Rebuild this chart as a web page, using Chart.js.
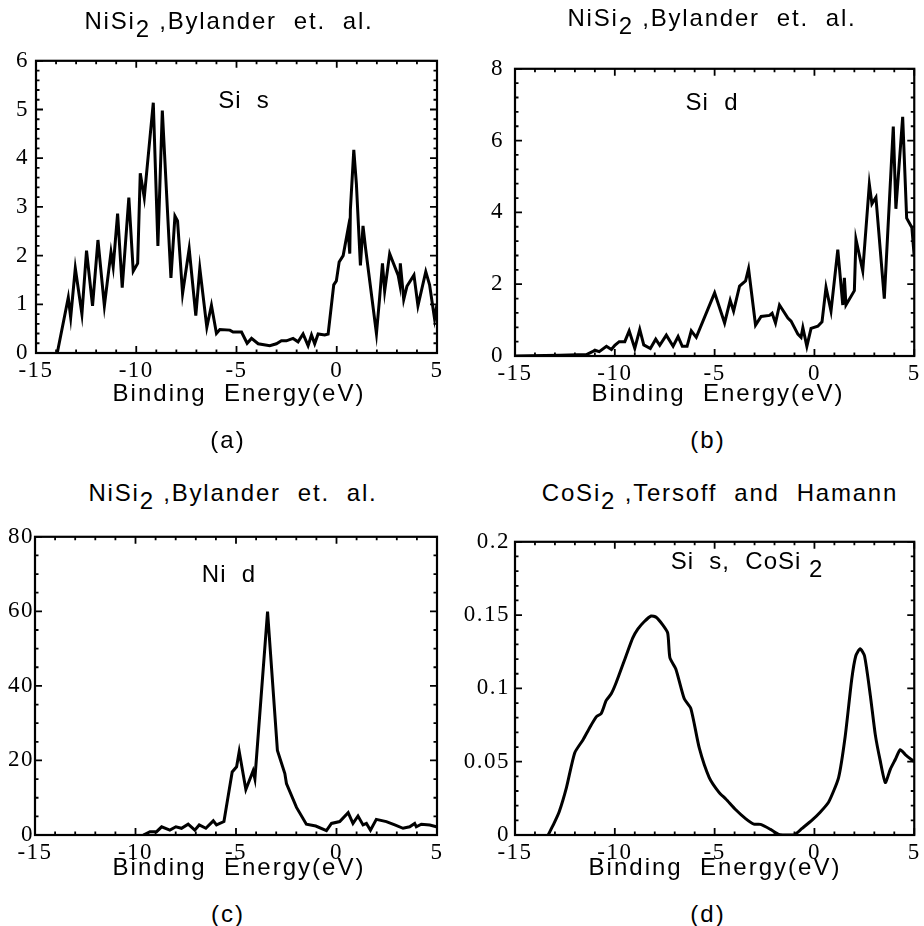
<!DOCTYPE html>
<html>
<head>
<meta charset="utf-8">
<script src="https://cdn.jsdelivr.net/npm/chart.js"></script>
<style>
  body { margin: 0; background: #fff; }
  #page { position: relative; width: 924px; height: 926px; overflow: hidden; }
  canvas { position: absolute; }
  .txt { position: absolute; transform: translateX(-50%); white-space: pre; line-height: 1; color: #000;
         font-family: "Liberation Sans", Arial, sans-serif; }
  .ttl { font-size: 24px; letter-spacing: 1.8px; }
  .lbl { font-size: 24px; letter-spacing: 1px; }
  .axt { font-size: 24px; letter-spacing: 2px; }
  .sub { position: relative; top: 8px; }
</style>
</head>
<body>
<div id="page">
  <canvas id="cA"></canvas>
  <canvas id="cB"></canvas>
  <canvas id="cC"></canvas>
  <canvas id="cD"></canvas>

  <!-- 제목 -->
  <div class="txt ttl" style="left:229px; top:9px">NiSi<span class="sub">2</span> ,Bylander  et.  al.</div>
  <div class="txt ttl" style="left:712px; top:6px">NiSi<span class="sub">2</span> ,Bylander  et.  al.</div>
  <div class="txt ttl" style="left:233px; top:481px">NiSi<span class="sub">2</span> ,Bylander  et.  al.</div>
  <div class="txt ttl" style="left:720px; top:481px">CoSi<span class="sub">2</span> ,Tersoff  and  Hamann</div>

  <!-- 그래프 안 라벨 -->
  <div class="txt lbl" style="left:244px; top:88px">Si  s</div>
  <div class="txt lbl" style="left:712px; top:90px">Si  d</div>
  <div class="txt lbl" style="left:229px; top:562px">Ni  d</div>
  <div class="txt lbl" style="left:747px; top:549px">Si  s,  CoSi <span class="sub">2</span></div>

  <!-- 가로축 제목 -->
  <div class="txt axt" style="left:239px; top:381px">Binding  Energy(eV)</div>
  <div class="txt axt" style="left:718px; top:381px">Binding  Energy(eV)</div>
  <div class="txt axt" style="left:239px; top:855px">Binding  Energy(eV)</div>
  <div class="txt axt" style="left:715px; top:855px">Binding  Energy(eV)</div>

  <div class="txt axt" style="left:228px; top:428px">(a)</div>
  <div class="txt axt" style="left:708px; top:428px">(b)</div>
  <div class="txt axt" style="left:228px; top:902px">(c)</div>
  <div class="txt axt" style="left:708px; top:902px">(d)</div>
</div>

<script>
// 가로축 눈금 (eV)
const xTicks = [-15, -10, -5, 0, 5];

// (a) NiSi2 Si s
const aE = [-13.94,-13.39,-13.27,-13.04,-12.71,-12.48,-12.18,-11.91,-11.59,-11.26,-11.15,-10.93,-10.70,-10.37,-10.15,-9.93,-9.80,-9.60,-9.15,-8.92,
  -8.70,-8.27,-8.07,-7.94,-7.69,-7.36,-7.03,-6.83,-6.48,-6.25,-6.00,-5.83,-5.33,-5.17,-4.75,-4.47,-4.25,-3.92,-3.34,-3.01,
  -2.76,-2.51,-2.18,-1.93,-1.68,-1.43,-1.26,-1.10,-0.93,-0.60,-0.43,-0.15,-0.02,0.12,0.32,0.56,0.65,0.68,0.85,0.98,
  1.18,1.31,1.44,1.98,2.14,2.28,2.39,2.64,3.06,3.14,3.17,3.34,3.50,3.85,4.05,4.44,4.63,4.88,5.0];
const aDos = [0,1.14,0.73,1.74,0.80,2.10,0.97,2.32,0.97,2.07,1.77,2.86,1.34,3.19,1.68,1.84,3.69,3.19,5.14,2.20,
  4.98,1.54,2.81,2.71,1.22,2.14,0.77,1.74,0.53,0.98,0.40,0.48,0.47,0.43,0.43,0.20,0.30,0.19,0.15,0.19,
  0.25,0.25,0.30,0.23,0.39,0.15,0.37,0.19,0.39,0.37,0.39,1.40,1.48,1.87,2.00,2.54,2.04,2.94,4.17,3.47,
  1.80,2.61,2.14,0.40,1.14,1.84,1.27,2.04,1.60,1.42,1.84,1.10,1.37,1.60,0.97,1.67,1.40,0.70,1.00];
const aTicks = [0, 1, 2, 3, 4, 5, 6];

// (b) NiSi2 Si d
const bE = [-15,-12.75,-11.42,-11.12,-11.0,-10.78,-10.42,-10.17,-10.0,-9.78,-9.5,-9.28,-9.0,-8.75,-8.55,-8.22,-7.95,-7.75,-7.42,-7.08,
  -6.83,-6.62,-6.38,-6.17,-5.92,-5.0,-4.5,-4.22,-4.05,-3.75,-3.45,-3.3,-2.95,-2.67,-2.25,-2.12,-1.95,-1.75,-1.33,-1.17,
  -0.83,-0.67,-0.58,-0.38,-0.17,0.17,0.38,0.58,0.83,1.17,1.42,1.5,1.58,2.0,2.08,2.42,2.75,2.88,3.08,3.5,
  3.95,4.08,4.42,4.62,4.88,5.0];
const bDos = [0,0.02,0.04,0.12,0.16,0.12,0.27,0.18,0.30,0.40,0.40,0.70,0.21,0.74,0.31,0.21,0.47,0.30,0.58,0.27,
  0.54,0.27,0.27,0.70,0.52,1.76,0.92,1.55,1.25,1.95,2.09,2.43,0.86,1.10,1.13,1.19,0.92,1.42,1.06,0.97,
  0.61,0.52,0.79,0.27,0.77,0.83,0.95,1.91,1.25,2.96,1.42,2.18,1.42,1.82,3.25,2.37,4.78,4.24,4.42,1.60,
  6.39,4.10,6.66,3.84,3.58,2.76];
const bTicks = [0, 2, 4, 6, 8];

// (c) NiSi2 Ni d
const cE = [-9.61,-9.28,-8.95,-8.70,-8.29,-7.99,-7.71,-7.38,-7.05,-6.83,-6.50,-6.13,-5.97,-5.60,-5.19,-4.97,-4.84,-4.51,-4.15,-4.06,
  -3.43,-2.94,-2.57,-2.49,-1.99,-1.50,-1.03,-0.50,-0.25,0.16,0.58,0.82,1.07,1.32,1.49,1.69,1.98,2.48,2.90,3.31,
  3.64,3.89,3.97,4.22,4.64,4.97];
const cDos = [0,0.9,0.9,2.2,1.3,2.2,1.8,2.9,1.3,2.7,1.8,3.8,2.7,3.6,16.9,18.3,22.4,12.2,17.2,15.1,
  59.9,22.7,16.5,13.8,7.4,2.9,2.4,1.2,3.1,3.6,6.0,3.1,5.1,2.7,3.1,1.3,4.2,3.6,2.7,1.8,
  2.2,3.1,2.2,2.9,2.7,2.2];
const cTicks = [0, 20, 40, 60, 80];

// (d) CoSi2 Si s
const dE = [-13.34,-13.09,-12.79,-12.42,-12.01,-11.59,-11.26,-10.93,-10.68,-10.43,-10.18,-9.93,-9.43,-9.10,-8.85,-8.52,-8.18,-7.93,-7.60,-7.35,
  -7.24,-6.94,-6.52,-6.19,-5.77,-5.27,-4.78,-4.44,-3.94,-3.45,-3.03,-2.70,-2.20,-1.78,-1.45,-1.03,-0.62,-0.12,0.30,0.71,
  1.21,1.54,1.87,2.07,2.29,2.51,2.80,3.05,3.30,3.55,3.80,4.05,4.30,4.55,5.0];
const dDos = [0,0.0067,0.0157,0.0325,0.056,0.065,0.0732,0.0806,0.0829,0.0918,0.0963,0.104,0.1225,0.1344,0.1404,0.1456,0.1494,0.1485,0.1433,0.1377,
  0.1209,0.1131,0.0929,0.0862,0.0594,0.0392,0.0291,0.0246,0.0172,0.0112,0.0074,0.0072,0.0038,0.0004,0,0,0.0045,0.0101,0.0157,0.0224,
  0.0392,0.0672,0.1064,0.1221,0.1270,0.1221,0.0952,0.0683,0.0504,0.0358,0.0448,0.0515,0.0582,0.0549,0.050];
const dTicks = [0, 0.05, 0.1, 0.15, 0.2];

// 눈금 글꼴 : Times 계열
Chart.defaults.font.family = "'Liberation Serif', 'Times New Roman', serif";
Chart.defaults.font.size = 23;
Chart.defaults.color = '#000';

// 눈금 숫자 자간 (원본이 넓게 찍혀 있음)
const tickSpacing = {
  id: 'tickSpacing',
  beforeDraw(chart) { chart.ctx.letterSpacing = '1.5px'; }
};

// 테두리 + 안쪽 눈금 (네 변 모두)
const frameTicks = {
  id: 'frameTicks',
  afterDatasetsDraw(chart, args, opts) {
    const { ctx, chartArea: a, scales: { x, y } } = chart;
    ctx.save();
    ctx.strokeStyle = '#000';
    ctx.lineWidth = 2.2;
    ctx.strokeRect(a.left, a.top, a.right - a.left, a.bottom - a.top);
    ctx.lineWidth = 1.8;
    const marks = (scale, step) => {
      const out = [];
      const n = Math.round((scale.max - scale.min) / step);
      for (let i = 0; i <= n; i++) out.push({ v: scale.min + i * step, len: 3.5 });
      scale.ticks.forEach(t => out.push({ v: t.value, len: 7 }));
      return out;
    };
    ctx.beginPath();
    marks(x, opts.xMinor).forEach(m => {
      const px = x.getPixelForValue(m.v);
      ctx.moveTo(px, a.bottom); ctx.lineTo(px, a.bottom - m.len);
      ctx.moveTo(px, a.top); ctx.lineTo(px, a.top + m.len);
    });
    marks(y, opts.yMinor).forEach(m => {
      const py = y.getPixelForValue(m.v);
      ctx.moveTo(a.left, py); ctx.lineTo(a.left + m.len, py);
      ctx.moveTo(a.right, py); ctx.lineTo(a.right - m.len, py);
    });
    ctx.stroke();
    ctx.restore();
  }
};

function makeChart(id, box, energy, dos, yTicks, yMinor, tension) {
  const cv = document.getElementById(id);
  cv.width = box.w; cv.height = box.h;
  cv.style.left = box.x + 'px'; cv.style.top = box.y + 'px';
  const tickFont = { family: "'Liberation Serif', 'Times New Roman', serif", size: 23 };
  return new Chart(cv, {
    type: 'line',
    data: {
      datasets: [{
        data: energy.map((e, i) => ({ x: e, y: dos[i] })),
        borderColor: '#000', borderWidth: 3, pointRadius: 0, tension: tension, fill: false
      }]
    },
    options: {
      responsive: false, animation: false, events: [],
      layout: { padding: { top: box.pt, right: box.pr, left: 0, bottom: 0 } },
      plugins: { legend: { display: false }, tooltip: { enabled: false }, frameTicks: { xMinor: 1, yMinor: yMinor } },
      scales: {
        x: {
          type: 'linear', min: xTicks[0], max: xTicks[xTicks.length - 1],
          afterBuildTicks: s => { s.ticks = xTicks.map(v => ({ value: v })); },
          afterFit: s => { s.height = box.xh; },
          grid: { display: false, drawTicks: false }, border: { display: false },
          ticks: { font: tickFont, color: '#000', padding: 4, maxRotation: 0, autoSkip: false, callback: v => String(v) }
        },
        y: {
          type: 'linear', min: yTicks[0], max: yTicks[yTicks.length - 1],
          afterBuildTicks: s => { s.ticks = yTicks.map(v => ({ value: v })); },
          afterFit: s => { s.width = box.yw; },
          grid: { display: false, drawTicks: false }, border: { display: false },
          ticks: { font: tickFont, color: '#000', padding: box.yp, autoSkip: false, callback: v => String(v) }
        }
      }
    },
    plugins: [tickSpacing, frameTicks]
  });
}

makeChart('cA', { x: 0, y: 40, w: 449, h: 343, yw: 36, pt: 14, pr: 12, xh: 30, yp: 7 }, aE, aDos, aTicks, 0.2, 0);
makeChart('cB', { x: 475, y: 44, w: 449, h: 342, yw: 40, pt: 14, pr: 9, xh: 30, yp: 11 }, bE, bDos, bTicks, 0.4, 0);
makeChart('cC', { x: 0, y: 522, w: 449, h: 343, yw: 35, pt: 14, pr: 12, xh: 30, yp: 1 }, cE, cDos, cTicks, 5, 0);
makeChart('cD', { x: 460, y: 523, w: 464, h: 342, yw: 55, pt: 14, pr: 8, xh: 30, yp: 5 }, dE, dDos, dTicks, 0.01, 0.2);
</script>
</body>
</html>
